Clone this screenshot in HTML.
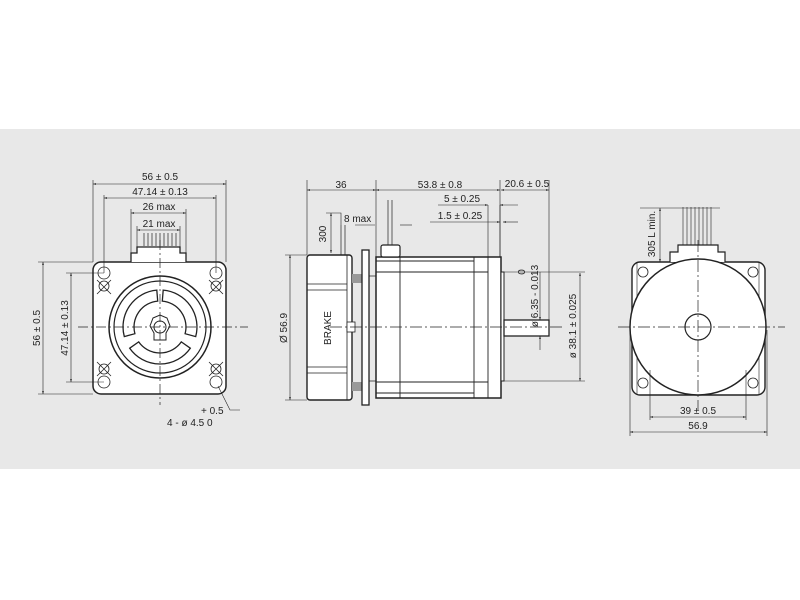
<!DOCTYPE html>
<html><head><meta charset="utf-8"><style>
html,body{margin:0;padding:0;background:#fff;}
svg{display:block;}
text{font-family:"Liberation Sans",sans-serif;font-size:10px;fill:#222;}
</style></head><body>
<svg width="800" height="600" viewBox="0 0 800 600" xmlns="http://www.w3.org/2000/svg">
<defs>
<marker id="a" viewBox="0 0 10 10" refX="10" refY="5" markerWidth="5" markerHeight="5" orient="auto-start-reverse"><path d="M0,2 L10,5 L0,8 z" fill="#222"/></marker>
</defs>
<rect x="0" y="129" width="800" height="340" fill="#e8e8e8"/>
<g stroke="#222" fill="none" stroke-width="1">
<!-- LEFT VIEW -->
<rect x="93" y="262" width="133" height="132" rx="8" fill="#fff" stroke-width="1.5"/>
<path d="M131,262 V253 H137 V247 H180 V253 H186 V262" fill="#fff" stroke-width="1.3"/>
<g stroke-width="0.7"><path d="M144,233V246M148,233V246M152,233V246M156,233V246M160,233V246M164,233V246M168,233V246M172,233V246M176,233V246"/></g>
<circle cx="160" cy="327" r="51" stroke-width="1.5"/>
<circle cx="160" cy="327" r="46" stroke-width="1.2"/>
<path d="M163.2,290.1 A37,37 0 0 1 195.7,336.6 L185.1,333.7 A26,26 0 0 0 162.3,301.1 Z" fill="#fff" stroke-width="1.3"/>
<path d="M156.8,290.1 A37,37 0 0 0 124.3,336.6 L134.9,333.7 A26,26 0 0 1 157.7,301.1 Z" fill="#fff" stroke-width="1.3"/>
<path d="M190.3,348.2 A37,37 0 0 1 129.7,348.2 L138.7,341.9 A26,26 0 0 0 181.3,341.9 Z" fill="#fff" stroke-width="1.3"/>
<path d="M153,318 L160,315 L167,318 L170,326 L166,333 L166,340 L154,340 L154,333 L150,326 Z" fill="#fff"/>
<circle cx="160" cy="327" r="6"/>
<g stroke-width="0.8">
<circle cx="104" cy="273" r="6"/><circle cx="216" cy="273" r="6"/><circle cx="104" cy="382" r="6"/><circle cx="216" cy="382" r="6"/>
<circle cx="104" cy="286" r="5"/><circle cx="216" cy="286" r="5"/><circle cx="104" cy="369" r="5"/><circle cx="216" cy="369" r="5"/>
<path d="M97,280l14,14M111,280l-14,14M209,280l14,14M223,280l-14,14M97,362l14,14M111,362l-14,14M209,362l14,14M223,362l-14,14"/>
</g>
<g stroke-width="0.7" stroke-dasharray="10,3,2,3"><path d="M78,327H248M160,240V405"/></g>
<g stroke-width="0.6">
<path d="M93,180V262M226,180V262M104,195V273M216,195V273M131,209V253M186,209V253M137,226V247M180,226V247"/>
<path d="M93,184H226" marker-start="url(#a)" marker-end="url(#a)"/>
<path d="M104,198H216" marker-start="url(#a)" marker-end="url(#a)"/>
<path d="M131,213H186" marker-start="url(#a)" marker-end="url(#a)"/>
<path d="M137,230H180" marker-start="url(#a)" marker-end="url(#a)"/>
<path d="M38,262H93M38,394H93M66,273H104M66,382H104"/>
<path d="M43,262V394" marker-start="url(#a)" marker-end="url(#a)"/>
<path d="M71,273V382" marker-start="url(#a)" marker-end="url(#a)"/>
<path d="M218,386L230,410H240"/>
</g>
<!-- MIDDLE VIEW -->
<rect x="307" y="255" width="45" height="145" rx="3" fill="#fff" stroke-width="1.4"/>
<path d="M347,255V400M307,284H347M307,290H347M307,367H347M307,373H347" stroke-width="0.8"/>
<rect x="352" y="274" width="10" height="9" fill="#999" stroke="none"/>
<rect x="352" y="382" width="10" height="9" fill="#999" stroke="none"/>
<rect x="347" y="322" width="8" height="10" fill="#fff" stroke-width="0.8"/>
<rect x="362" y="250" width="7" height="155" fill="#fff" stroke-width="1.3"/>
<rect x="376" y="257" width="125" height="141" fill="#fff" stroke-width="1.5"/>
<path d="M369,276H376M369,381H376" stroke-width="0.8"/>
<path d="M400,257V398M474,257V398M488,257V398M376,261H474M376,272H488M376,382H488M376,393H474" stroke-width="0.9"/>
<rect x="381" y="245" width="19" height="12" rx="2" fill="#fff" stroke-width="1.2"/>
<path d="M388,200V245M392,200V245" stroke-width="0.7"/>
<rect x="501" y="272" width="3" height="109" fill="#fff" stroke-width="1"/>
<rect x="504" y="320" width="45" height="16" fill="#fff" stroke-width="1.3"/>
<path d="M330,327H565" stroke-width="0.7" stroke-dasharray="12,3,2,3"/>
<path d="M341,225V255M345,225V255" stroke-width="0.7"/>
<g stroke-width="0.6">
<path d="M307,180V255M376,180V257M500,180V257M549,180V320"/>
<path d="M307,190H376" marker-start="url(#a)" marker-end="url(#a)"/>
<path d="M376,190H500" marker-start="url(#a)" marker-end="url(#a)"/>
<path d="M501,190H549" marker-start="url(#a)" marker-end="url(#a)"/>
<path d="M488,205V257M500,205V257"/>
<path d="M438,205H488" marker-end="url(#a)"/><path d="M518,205H500" marker-end="url(#a)"/>
<path d="M430,222H500" marker-end="url(#a)"/><path d="M518,222H503" marker-end="url(#a)"/>
<path d="M326,213H341V225"/>
<path d="M331,213V253" marker-start="url(#a)" marker-end="url(#a)"/>
<path d="M355,225H375" /><path d="M400,225H412"/>
<path d="M285,255H307M285,400H307"/>
<path d="M290,255V400" marker-start="url(#a)" marker-end="url(#a)"/>
<path d="M540,272V320" marker-end="url(#a)"/><path d="M540,350V336" marker-end="url(#a)"/>
<path d="M504,272H585M504,381H585"/>
<path d="M580,273V381" marker-start="url(#a)" marker-end="url(#a)"/>
</g>
<!-- RIGHT VIEW -->
<rect x="632" y="262" width="133" height="133" rx="8" fill="#fff" stroke-width="1.4"/>
<path d="M670,262V252H678V245H718V252H725V262" fill="#fff" stroke-width="1.2"/>
<path d="M683,207V245M687,207V245M691,207V245M695,207V245M699,207V245M703,207V245M707,207V245M711,207V245" stroke-width="0.6"/>
<g stroke-width="0.8"><circle cx="643" cy="272" r="5"/><circle cx="753" cy="272" r="5"/><circle cx="643" cy="383" r="5"/><circle cx="753" cy="383" r="5"/>
<path d="M637,262V395M759,262V395" stroke-width="0.6"/></g>
<circle cx="698" cy="327" r="68" fill="#fff" stroke-width="1.5"/>
<circle cx="698" cy="327" r="13" stroke-width="1.2"/>
<path d="M618,327H785M698,240V410" stroke-width="0.7" stroke-dasharray="12,3,2,3"/>
<g stroke-width="0.6">
<path d="M640,208H720"/>
<path d="M660,208V262" marker-start="url(#a)" marker-end="url(#a)"/>
<path d="M650,370V420M746,370V420M630,330V436M767,330V436"/>
<path d="M650,417H746" marker-start="url(#a)" marker-end="url(#a)"/>
<path d="M630,432H767" marker-start="url(#a)" marker-end="url(#a)"/>
</g>
</g>
<!-- TEXT -->
<g>
<text x="160" y="180" text-anchor="middle">56 ± 0.5</text>
<text x="160" y="195" text-anchor="middle">47.14 ± 0.13</text>
<text x="159" y="210" text-anchor="middle">26 max</text>
<text x="159" y="227" text-anchor="middle">21 max</text>
<text transform="translate(40,328) rotate(-90)" text-anchor="middle">56 ± 0.5</text>
<text transform="translate(68,328) rotate(-90)" text-anchor="middle">47.14 ± 0.13</text>
<text x="201" y="414">+ 0.5</text>
<text x="167" y="426">4 - ø 4.5  0</text>
<text x="341" y="188" text-anchor="middle">36</text>
<text x="440" y="188" text-anchor="middle">53.8 ± 0.8</text>
<text x="527" y="187" text-anchor="middle">20.6 ± 0.5</text>
<text x="462" y="202" text-anchor="middle">5 ± 0.25</text>
<text x="460" y="219" text-anchor="middle">1.5 ± 0.25</text>
<text x="344" y="222">8 max</text>
<text transform="translate(326,234) rotate(-90)" text-anchor="middle">300</text>
<text transform="translate(287,328) rotate(-90)" text-anchor="middle">Ø 56.9</text>
<text transform="translate(331,328) rotate(-90)" text-anchor="middle">BRAKE</text>
<text transform="translate(525,272) rotate(-90)" text-anchor="middle">0</text>
<text transform="translate(538,296) rotate(-90)" text-anchor="middle">ø 6.35 - 0.013</text>
<text transform="translate(576,326) rotate(-90)" text-anchor="middle">ø 38.1 ± 0.025</text>
<text transform="translate(655,234) rotate(-90)" text-anchor="middle">305 L min.</text>
<text x="698" y="414" text-anchor="middle">39 ± 0.5</text>
<text x="698" y="429" text-anchor="middle">56.9</text>
</g>
</svg>
</body></html>
